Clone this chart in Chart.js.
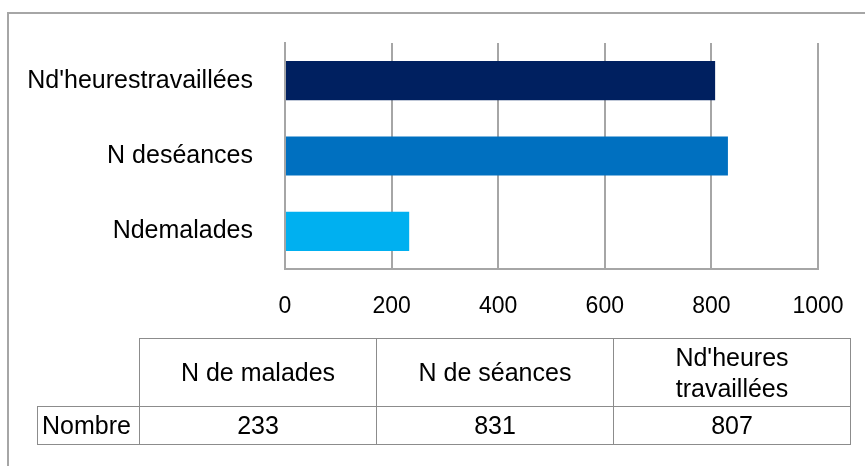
<!DOCTYPE html>
<html><head><meta charset="utf-8">
<script src="https://cdn.jsdelivr.net/npm/chart.js@4.4.0/dist/chart.umd.min.js"></script>
<style>
html,body{margin:0;padding:0;background:#fff;width:865px;height:466px;overflow:hidden;}
#frame{position:absolute;left:7px;top:12px;width:900px;height:500px;border-left:2px solid #a6a6a6;border-top:2px solid #a6a6a6;}
#c{position:absolute;left:0;top:0;}
#tbl{position:absolute;left:37px;top:338px;border-collapse:collapse;table-layout:fixed;font-family:"Liberation Sans",Arial,sans-serif;font-size:25px;color:#000;}
#tbl td{border:1.5px solid #8c8c8c;text-align:center;padding:0;}
#tbl td.blank{border:none;}
#tbl tr.head td{height:67px;line-height:31px;}
#tbl tr.vals td{height:37px;line-height:37px;}
#tbl td.lab{text-align:left;padding-left:4px;}
</style>
</head><body>
<div id="frame"></div>
<canvas id="c" width="865" height="466"></canvas>
<table id="tbl">
<colgroup><col style="width:102px"><col style="width:237px"><col style="width:237px"><col style="width:237px"></colgroup>
<tbody id="tb"></tbody>
</table>
<script>
// ---- data ----
const categories = ['Ndemalades', 'N deséances', "Nd'heurestravaillées"];
const values = [233, 831, 807];
const barColors = ['#00B0F0', '#0070C0', '#002060'];
const xTicks = [0, 200, 400, 600, 800, 1000];
const tableHeaders = ['N de malades', 'N de séances', "Nd'heures\ntravaillées"];
const tableRowLabel = 'Nombre';

// ---- table ----
const tb = document.getElementById('tb');
tb.innerHTML =
  '<tr class="head"><td class="blank"></td>' +
  tableHeaders.map(h => '<td>' + h.replace('\n', '<br>') + '</td>').join('') + '</tr>' +
  '<tr class="vals"><td class="lab">' + tableRowLabel + '</td>' +
  values.map(v => '<td>' + v + '</td>').join('') + '</tr>';

// ---- chart ----
const gridColor = '#a6a6a6';
new Chart(document.getElementById('c'), {
  type: 'bar',
  data: {
    labels: categories,
    datasets: [{
      data: values,
      backgroundColor: barColors,
      borderWidth: 0,
      categoryPercentage: 1,
      barPercentage: 0.52
    }]
  },
  options: {
    indexAxis: 'y',
    responsive: false,
    animation: false,
    devicePixelRatio: 1,
    layout: { padding: { left: 0, right: 47, top: 43, bottom: 0 } },
    plugins: { legend: { display: false }, tooltip: { enabled: false }, title: { display: false } },
    scales: {
      x: {
        min: 0, max: 1000,
        afterBuildTicks: s => { s.ticks = xTicks.map(v => ({ value: v })); },
        afterFit: s => { s.height = 197; s.paddingLeft = 0; s.paddingRight = 0; },
        grid: { color: gridColor, lineWidth: 2, drawTicks: false },
        border: { display: true, color: gridColor, width: 2 },
        ticks: {
          padding: 24,
          color: '#000',
          font: { family: '"Liberation Sans", Arial, sans-serif', size: 23 },
          maxRotation: 0, autoSkip: false,
          callback: v => String(v)
        }
      },
      y: {
        reverse: true,
        afterFit: s => { s.width = 285; s.paddingTop = 0; s.paddingBottom = 0; },
        grid: { display: false, drawTicks: false },
        border: { display: true, color: gridColor, width: 2 },
        ticks: {
          padding: 32,
          color: '#000',
          font: { family: '"Liberation Sans", Arial, sans-serif', size: 25 }
        }
      }
    }
  }
});
</script>
</body></html>
